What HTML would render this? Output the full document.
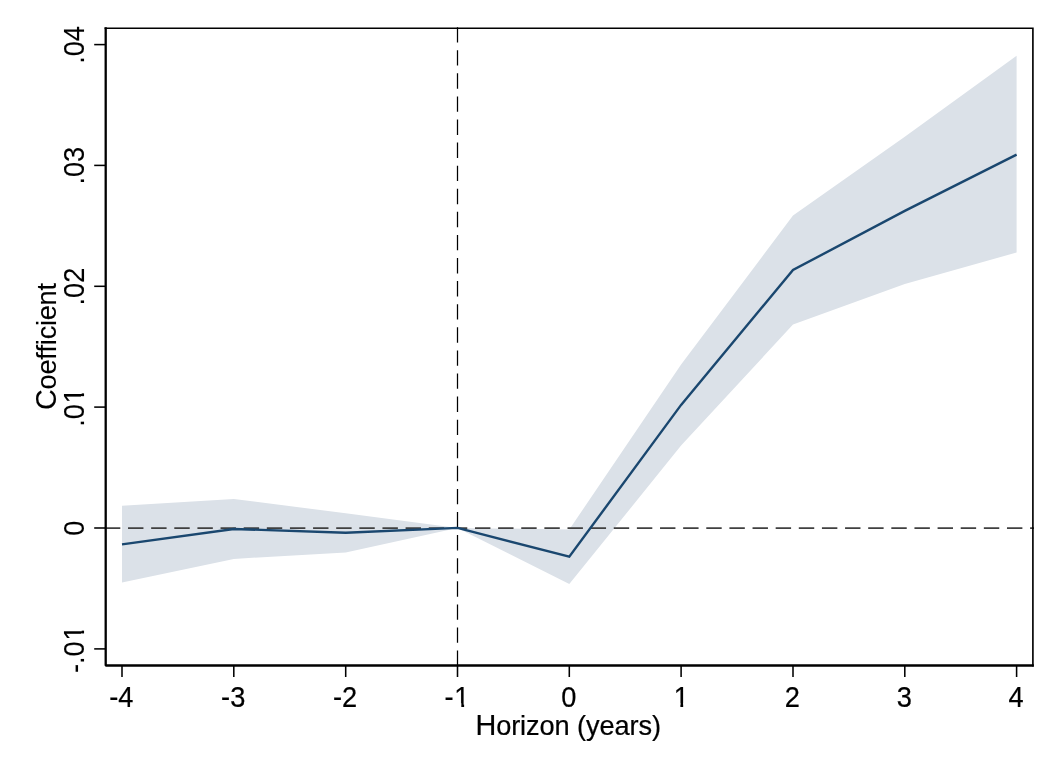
<!DOCTYPE html>
<html><head><meta charset="utf-8"><title>Event study</title>
<style>
html,body{margin:0;padding:0;background:#fff;}
svg{display:block}
text{font-family:"Liberation Sans",Arial,sans-serif;font-size:27.2px;fill:#000;stroke:#000;stroke-width:0.22px;font-kerning:none}
text.r{stroke-width:0.1px}
</style></head><body>
<svg width="1061" height="771" viewBox="0 0 1061 771">
<rect width="1061" height="771" fill="#fff"/>
<polygon points="122.0,505.7 233.8,498.9 345.7,513.3 457.5,527.9 569.3,529.5 681.1,364.4 793.0,215.6 904.8,136.8 1016.6,55.8 1016.6,252.5 904.8,283.9 793.0,324.5 681.1,445.6 569.3,584.1 457.5,527.9 345.7,552.4 233.8,558.9 122.0,582.4" fill="#dbe1e8"/>
<line x1="104.9" y1="528.17" x2="1034" y2="528.17" stroke="#404040" stroke-width="1.66" stroke-dasharray="15.42 7.71"/>
<line x1="457.5" y1="27.13" x2="457.5" y2="666" stroke="#000" stroke-width="1.25" stroke-dasharray="15.39 7.7"/>
<polyline points="122.0,544.4 233.8,529.0 345.7,532.7 457.5,527.9 569.3,556.7 681.1,404.9 793.0,270.0 904.8,210.9 1016.6,154.6" fill="none" stroke="#1a476f" stroke-width="2.4" stroke-linejoin="miter"/>
<path d="M104.6,28.2 H1032.9 V666.6" fill="none" stroke="#000" stroke-width="1.65"/>
<path d="M105.7,27.25 V665.5 H1033.85" fill="none" stroke="#000" stroke-width="2.3" stroke-linejoin="bevel"/>

<line x1="94.2" y1="44.6" x2="105.8" y2="44.6" stroke="#000" stroke-width="1.55"/>
<g transform="translate(84.3,44.9) rotate(-90) scale(1,1.07)"><text class="r" text-anchor="middle">.04</text></g>
<line x1="94.2" y1="165.4" x2="105.8" y2="165.4" stroke="#000" stroke-width="1.55"/>
<g transform="translate(84.3,165.7) rotate(-90) scale(1,1.07)"><text class="r" text-anchor="middle">.03</text></g>
<line x1="94.2" y1="286.3" x2="105.8" y2="286.3" stroke="#000" stroke-width="1.55"/>
<g transform="translate(84.3,286.6) rotate(-90) scale(1,1.07)"><text class="r" text-anchor="middle">.02</text></g>
<line x1="94.2" y1="407.1" x2="105.8" y2="407.1" stroke="#000" stroke-width="1.55"/>
<g transform="translate(84.3,407.4) rotate(-90) scale(1,1.07)"><text class="r" text-anchor="middle">.0<tspan dx="0.8">1</tspan></text><rect x="5.25" y="-3.13" width="5.97" height="4.73" fill="#fff"/><rect x="14.02" y="-3.13" width="5.86" height="4.73" fill="#fff"/></g>
<line x1="94.2" y1="528.0" x2="105.8" y2="528.0" stroke="#000" stroke-width="1.55"/>
<g transform="translate(84.3,528.3) rotate(-90) scale(1,1.07)"><text class="r" text-anchor="middle">0</text></g>
<line x1="94.2" y1="648.9" x2="105.8" y2="648.9" stroke="#000" stroke-width="1.55"/>
<g transform="translate(84.3,649.2) rotate(-90) scale(1,1.07)"><text class="r" text-anchor="middle"><tspan dy="0.5">-</tspan><tspan dy="-0.5">.</tspan>0<tspan dx="0.8">1</tspan></text><rect x="9.78" y="-3.13" width="5.97" height="4.73" fill="#fff"/><rect x="18.55" y="-3.13" width="5.86" height="4.73" fill="#fff"/></g>
<line x1="122.0" y1="665.5" x2="122.0" y2="677" stroke="#000" stroke-width="1.55"/>
<g transform="translate(121.4,706.6) scale(1,1.07)"><text text-anchor="middle"><tspan dy="0.5">-</tspan><tspan dy="-0.5">4</tspan></text></g>
<line x1="233.8" y1="665.5" x2="233.8" y2="677" stroke="#000" stroke-width="1.55"/>
<g transform="translate(233.2,706.6) scale(1,1.07)"><text text-anchor="middle"><tspan dy="0.5">-</tspan><tspan dy="-0.5">3</tspan></text></g>
<line x1="345.7" y1="665.5" x2="345.7" y2="677" stroke="#000" stroke-width="1.55"/>
<g transform="translate(345.1,706.6) scale(1,1.07)"><text text-anchor="middle"><tspan dy="0.5">-</tspan><tspan dy="-0.5">2</tspan></text></g>
<line x1="457.5" y1="665.5" x2="457.5" y2="677" stroke="#000" stroke-width="1.55"/>
<g transform="translate(456.9,706.6) scale(1,1.07)"><text text-anchor="middle"><tspan dy="0.5">-</tspan><tspan dx="0.8" dy="-0.5">1</tspan></text><rect x="-1.56" y="-3.13" width="5.97" height="4.73" fill="#fff"/><rect x="7.21" y="-3.13" width="5.86" height="4.73" fill="#fff"/></g>
<line x1="569.3" y1="665.5" x2="569.3" y2="677" stroke="#000" stroke-width="1.55"/>
<g transform="translate(568.7,706.6) scale(1,1.07)"><text text-anchor="middle">0</text></g>
<line x1="681.1" y1="665.5" x2="681.1" y2="677" stroke="#000" stroke-width="1.55"/>
<g transform="translate(680.5,706.6) scale(1,1.07)"><text text-anchor="middle"><tspan dx="0.8">1</tspan></text><rect x="-6.09" y="-3.13" width="5.97" height="4.73" fill="#fff"/><rect x="2.68" y="-3.13" width="5.86" height="4.73" fill="#fff"/></g>
<line x1="793.0" y1="665.5" x2="793.0" y2="677" stroke="#000" stroke-width="1.55"/>
<g transform="translate(792.4,706.6) scale(1,1.07)"><text text-anchor="middle">2</text></g>
<line x1="904.8" y1="665.5" x2="904.8" y2="677" stroke="#000" stroke-width="1.55"/>
<g transform="translate(904.2,706.6) scale(1,1.07)"><text text-anchor="middle">3</text></g>
<line x1="1016.6" y1="665.5" x2="1016.6" y2="677" stroke="#000" stroke-width="1.55"/>
<g transform="translate(1016.0,706.6) scale(1,1.07)"><text text-anchor="middle">4</text></g>
<text transform="translate(568.2,734.9) scale(1,1.05)" text-anchor="middle" letter-spacing="-0.1"><tspan font-size="28.8">H</tspan>orizon (years)</text>
<text transform="translate(55.6,346.6) rotate(-90) scale(1,1.05)" class="r" text-anchor="middle" letter-spacing="-0.26"><tspan font-size="28.8">C</tspan>oefficient</text>
</svg></body></html>
